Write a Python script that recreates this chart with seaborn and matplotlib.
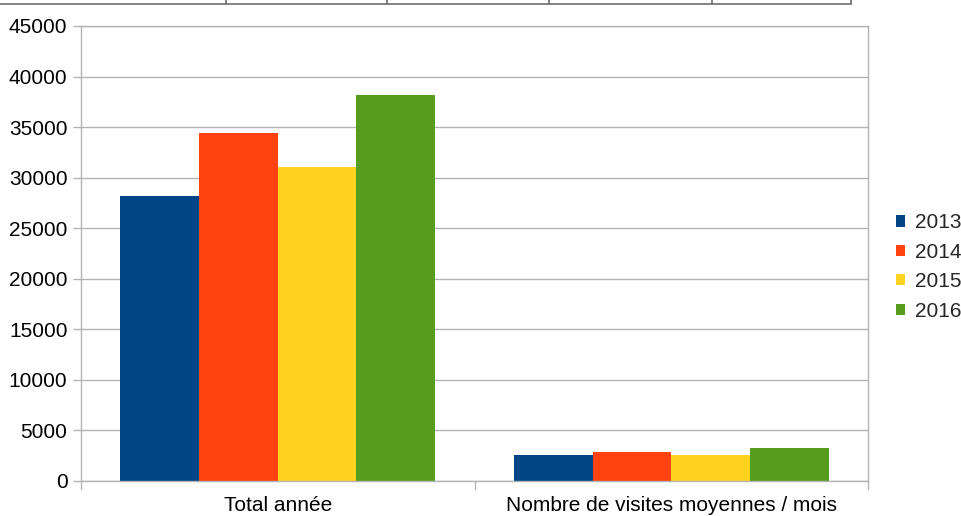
import matplotlib
matplotlib.use("Agg")
import matplotlib.pyplot as plt
from matplotlib.lines import Line2D
from matplotlib.patches import Patch
import seaborn as sns
import pandas as pd

categories = ["Total année", "Nombre de visites moyennes / mois"]
years = ["2013", "2014", "2015", "2016"]
values_2013 = [28200, 2550]
values_2014 = [34400, 2850]
values_2015 = [31050, 2550]
values_2016 = [38200, 3230]
colors = ["#004586", "#ff420e", "#ffd320", "#579d1c"]
y_ticks = [0, 5000, 10000, 15000, 20000, 25000, 30000, 35000, 40000, 45000]

rows = []
for year, vals in zip(years, [values_2013, values_2014, values_2015, values_2016]):
    for cat, v in zip(categories, vals):
        rows.append({"categorie": cat, "annee": year, "valeur": v})
df = pd.DataFrame(rows)

sns.set_theme(style="white")
plt.rcParams["font.family"] = ["Liberation Sans", "DejaVu Sans"]

FS = 15

fig = plt.figure(figsize=(9.62, 5.16), dpi=100)
ax = fig.add_axes([81 / 962, 1 - 481 / 516, (868 - 81) / 962, (481 - 26) / 516])

sns.barplot(data=df, x="categorie", y="valeur", hue="annee", order=categories,
            hue_order=years, palette=colors, width=0.8, saturation=1,
            edgecolor="none", linewidth=0, ax=ax, legend=False)

ax.set_ylim(0, 45000)
ax.set_xlim(-0.5, 1.5)
ax.set_yticks(y_ticks)
ax.set_yticklabels([str(t) for t in y_ticks], fontsize=FS, color="#000000")
ax.set_xticks([0, 1])
ax.set_xticklabels(categories, fontsize=FS, color="#000000")
ax.tick_params(axis="x", length=0, pad=11)
ax.tick_params(axis="y", length=5.8, width=1, color="#b3b3b3", pad=4, left=True)
ax.set_xlabel("")
ax.set_ylabel("")
ax.grid(axis="y", color="#b3b3b3", linewidth=1)
ax.set_axisbelow(True)
for side in ["left", "right", "top", "bottom"]:
    ax.spines[side].set_visible(True)
    ax.spines[side].set_color("#b3b3b3")
    ax.spines[side].set_linewidth(1)

# category separator ticks below the x axis
for xpos in [-0.5, 0.5, 1.5]:
    ax.plot([xpos, xpos], [0, -0.0176], transform=ax.get_xaxis_transform(),
            color="#b3b3b3", linewidth=1, clip_on=False)

handles = [Patch(facecolor=c, edgecolor="none", label=y) for c, y in zip(colors, years)]
fig.legend(handles=handles, loc="center left", bbox_to_anchor=(896 / 962, 1 - 267 / 516),
           frameon=False, fontsize=FS, handlelength=0.45, handleheight=0.45,
           handletextpad=0.45, labelspacing=0.5, borderpad=0, borderaxespad=0)

# spreadsheet cell border above the chart
fig.add_artist(Line2D([0, 851 / 962], [1 - 4 / 516, 1 - 4 / 516],
                      transform=fig.transFigure, color="#6e6e6e", linewidth=1.2))
for xpx in [226, 387, 549, 712, 851]:
    fig.add_artist(Line2D([xpx / 962, xpx / 962], [1 - 4 / 516, 1],
                          transform=fig.transFigure, color="#6e6e6e", linewidth=1.2))

fig.savefig("out.png", dpi=100)
